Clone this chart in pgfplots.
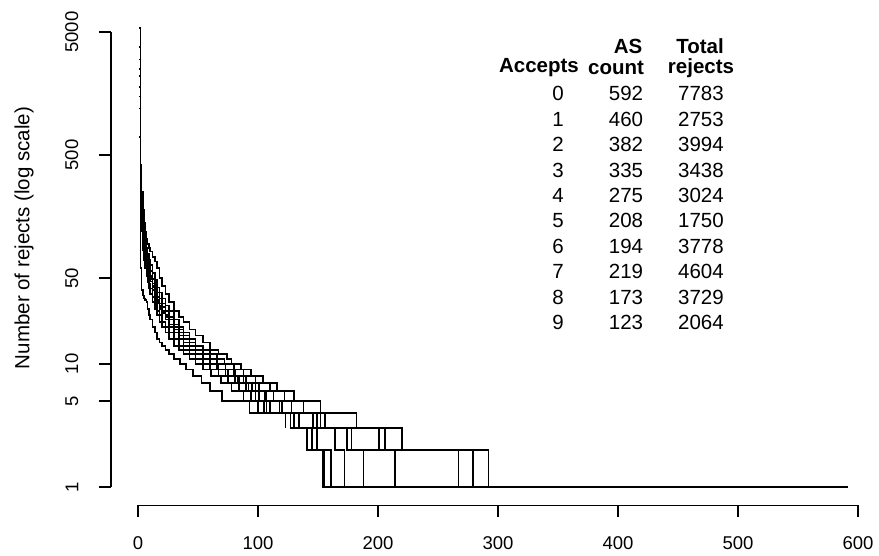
\documentclass[border=0pt]{standalone}
\usepackage{fontspec}
\setmainfont{Liberation Sans}
\usepackage{pgfplots}
\pgfplotsset{compat=1.18}
\begin{document}
\begin{tikzpicture}[x=1pt,y=1pt]
\path[use as bounding box] (0,0) rectangle (879,555);
\begin{axis}[at={(110.8pt,49.8pt)}, anchor=south west, scale only axis,
  width=766pt, height=495.4pt,
  xmin=-22.64, xmax=615.64, ymode=log, ymin=0.7096, ymax=7603,
  axis line style={draw=none}, clip=false,
  xtick={0,100,200,300,400,500,600}, xticklabels={0,100,200,300,400,500,600},
  ytick={1,5,10,50,500,5000}, yticklabels={1,5,10,50,500,5000},
  tick align=outside, major tick length=12pt,
  tick style={black, line width=1.4pt},
  xtick pos=bottom, ytick pos=left,
  ticklabel style={font=\fontsize{18.5}{22}\selectfont},
  xticklabel style={anchor=north, yshift=-16pt},
  yticklabel style={rotate=90, anchor=south, yshift=17pt},
  st/.style={const plot, black, line width=1.6pt, mark=none}]
\draw[black, line width=1.4pt] (axis cs:0,0.7096) -- (axis cs:600,0.7096);
\draw[black, line width=1.4pt] (axis cs:-22.64,1) -- (axis cs:-22.64,5000);
% 0 accepts
\addplot[st] coordinates {(1,5400) (2,420) (3,250) (4,180) (5,140) (6,118) (7,104) (8,95) (9,88) (10,82) (12,74) (14,68) (16,60) (18,50) (20,43) (23,37) (26,32) (30,27) (34,24) (38,22) (43,19) (48,17) (54,15) (60,13) (67,12) (74,11) (78,10) (86,9) (94,8) (104,7) (116,6) (130,5) (152,4) (182,3) (220,2) (292,1) (592,1)};
% 1 accept
\addplot[st] coordinates {(1,1500) (2,60) (3,40) (4,36) (5,34) (6,33) (7,32) (8,28) (9,25) (10,23) (12,20) (14,18) (16,16) (18,15) (20,14) (23,13) (26,12) (30,11) (35,10) (40,9) (46,8) (53,7) (60,6) (70,5) (93,4) (134,3) (178,2) (214,1) (460,1)};
% 2
\addplot[st] coordinates {(1,2200) (2,380) (3,230) (4,160) (5,125) (6,100) (7,88) (8,78) (9,70) (10,64) (12,55) (14,48) (16,42) (18,38) (20,34) (23,30) (26,27) (30,23) (34,20) (38,18) (43,16) (48,14) (54,13) (60,12) (66,11) (72,10) (80,9) (88,8) (98,7) (110,6) (122,5) (138,4) (156,3) (206,2) (279,1) (382,1)};
% 3
\addplot[st] coordinates {(1,1800) (2,320) (3,200) (4,140) (5,110) (6,92) (7,80) (8,70) (9,63) (10,57) (12,49) (14,43) (16,38) (18,34) (20,31) (23,27) (26,24) (30,21) (34,19) (38,17) (43,15) (48,13) (54,12) (60,11) (66,10) (73,9) (81,8) (90,7) (101,6) (113,5) (128,4) (152,3) (201,2) (267,1) (335,1)};
% 4
\addplot[st] coordinates {(1,2500) (2,300) (3,190) (4,130) (5,100) (6,82) (7,70) (8,62) (9,55) (10,50) (12,43) (14,37) (16,33) (18,30) (20,27) (23,24) (26,21) (30,19) (34,17) (38,15) (43,14) (48,12) (54,11) (60,10) (67,9) (75,8) (84,7) (95,6) (106,5) (120,4) (149,3) (174,2) (188,1) (275,1)};
% 5
\addplot[st] coordinates {(1,700) (2,200) (3,120) (4,85) (5,70) (6,60) (7,52) (8,46) (9,41) (10,37) (12,32) (14,28) (16,25) (18,22) (20,20) (23,18) (26,16) (30,14) (34,13) (38,12) (43,11) (48,10) (54,9) (61,8) (69,7) (78,6) (88,5) (100,4) (134,3) (149,2) (161,1) (208,1)};
% 6
\addplot[st] coordinates {(1,3000) (2,250) (3,150) (4,110) (5,90) (6,75) (7,65) (8,58) (9,52) (10,47) (12,40) (14,35) (16,31) (18,28) (20,26) (23,23) (26,20) (30,18) (34,16) (38,14) (43,13) (48,12) (54,11) (60,10) (66,9) (73,8) (81,7) (90,6) (98,5) (107,4) (127,3) (141,2) (154,1) (194,1)};
% 7
\addplot[st] coordinates {(1,3800) (2,350) (3,200) (4,140) (5,105) (6,86) (7,74) (8,65) (9,58) (10,52) (12,45) (14,39) (16,35) (18,31) (20,29) (23,25) (26,23) (30,20) (34,18) (38,16) (43,14) (48,13) (54,12) (60,11) (66,10) (73,9) (80,8) (88,7) (98,6) (107,5) (118,4) (146,3) (164,2) (172,1) (219,1)};
% 8
\addplot[st] coordinates {(1,3000) (2,280) (3,170) (4,120) (5,95) (6,80) (7,68) (8,60) (9,54) (10,49) (12,42) (14,36) (16,32) (18,29) (20,26) (23,23) (26,21) (30,18) (34,16) (38,15) (43,13) (48,12) (54,11) (60,10) (67,9) (75,8) (83,7) (92,6) (101,5) (110,4) (130,3) (145,2) (155,1) (173,1)};
% 9
\addplot[st] coordinates {(1,1200) (2,250) (3,140) (4,100) (5,80) (6,66) (7,57) (8,50) (9,45) (10,41) (12,35) (14,31) (16,27) (18,25) (20,22) (23,20) (26,18) (30,16) (34,14) (38,13) (43,12) (48,11) (54,10) (60,9) (67,8) (75,7) (84,6) (94,5) (105,4) (123,3)};
\end{axis}
\node[rotate=90, font=\fontsize{20.5}{24}\selectfont] at (24,317) {Number of rejects (log scale)};
\begin{scope}[every node/.style={font=\fontsize{20.5}{24}\selectfont, inner sep=0pt}]
\node[font=\fontsize{20.5}{24}\selectfont\bfseries] at (628,509) {AS};
\node[font=\fontsize{20.5}{24}\selectfont\bfseries] at (700,509) {Total};
\node[font=\fontsize{20.5}{24}\selectfont\bfseries] at (539,487) {Accepts};
\node[font=\fontsize{20.5}{24}\selectfont\bfseries] at (616,487) {count};
\node[font=\fontsize{20.5}{24}\selectfont\bfseries] at (701,487) {rejects};
\foreach \a/\n/\t [count=\i from 0] in {0/592/7783,1/460/2753,2/382/3994,3/335/3438,4/275/3024,5/208/1750,6/194/3778,7/219/4604,8/173/3729,9/123/2064}{
  \node[anchor=base] at (558,{555-101-25.4*\i}) {\a};
  \node[anchor=base] at (626,{555-101-25.4*\i}) {\n};
  \node[anchor=base] at (701,{555-101-25.4*\i}) {\t};
}
\end{scope}
\end{tikzpicture}
\end{document}
